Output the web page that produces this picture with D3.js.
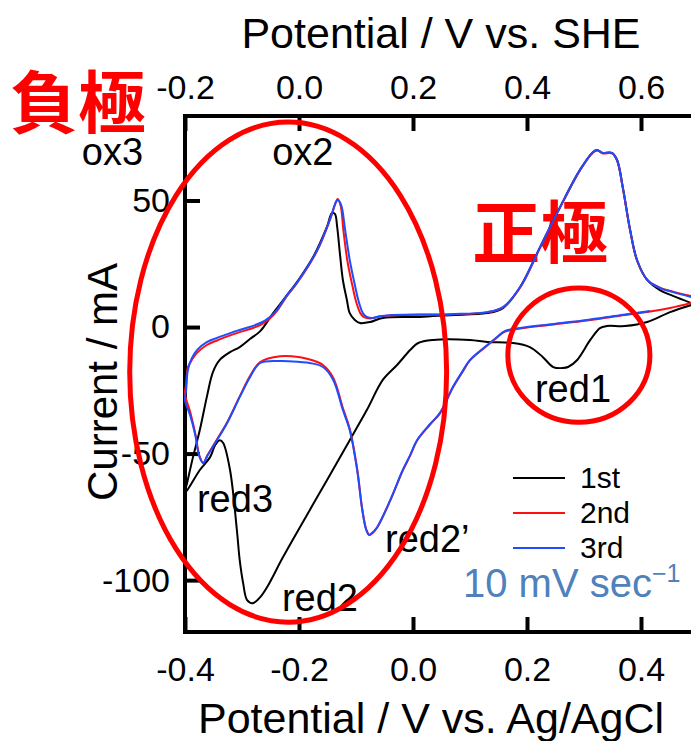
<!DOCTYPE html>
<html>
<head>
<meta charset="utf-8">
<script src="https://cdn.jsdelivr.net/npm/d3@7"></script>
<style>
  body { margin: 0; background: #fff; }
  svg { display: block; font-family: Arial, "Liberation Sans", sans-serif; }
</style>
</head>
<body>
<div id="chart"></div>
<script>
// potential (V vs. Ag/AgCl) and current (mA) for each cycle
const volt1st = [0.488,0.451,0.411,0.372,0.340,0.328,0.311,0.288,0.272,0.263,0.246,0.228,0.205,0.175,0.130,0.100,0.035,0.009,-0.005,-0.028,-0.053,-0.081,-0.111,-0.168,-0.228,-0.254,-0.268,-0.281,-0.291,-0.298,-0.304,-0.309,-0.321,-0.333,-0.339,-0.347,-0.356,-0.374,-0.396,-0.400,
  -0.396,-0.386,-0.374,-0.361,-0.351,-0.339,-0.321,-0.304,-0.286,-0.268,-0.246,-0.221,-0.198,-0.174,-0.151,-0.142,-0.137,-0.133,-0.128,-0.123,-0.116,-0.111,-0.102,-0.093,-0.075,-0.053,0.012,0.065,0.130,0.158,0.188,0.223,0.258,0.293,0.316,0.323,0.332,0.349,0.358,0.368,0.381,0.393,0.411,0.433,0.456,0.488];
const curr1st = [8.7,5.9,2.0,0.4,0.4,-0.4,-5.1,-13.0,-15.8,-16.2,-15.8,-11.9,-7.9,-6.3,-5.9,-5.1,-5.1,-6.3,-9.1,-15.0,-20.9,-32.8,-44.7,-67.2,-90.9,-102.0,-106.7,-109.1,-107.9,-101.2,-92.1,-80.2,-56.5,-45.8,-44.7,-46.6,-51.4,-56.5,-64.4,-65.2,
  -61.3,-51.4,-40.7,-26.9,-17.8,-13.0,-9.9,-7.9,-4.7,-1.6,5.3,12.6,19.6,28.2,39.6,45.1,44.7,39.5,28.5,18.6,10.7,5.5,2.8,1.6,2.0,3.6,4.0,4.7,5.5,7.5,15.8,31.6,47.4,62.1,69.2,70.0,68.8,68.8,66.0,55.3,38.3,26.5,18.6,14.6,12.3,9.5];

const volt2nd = [0.488,0.451,0.416,0.363,0.305,0.246,0.188,0.161,0.147,0.126,0.100,0.086,0.070,0.047,0.030,0.007,-0.005,-0.018,-0.040,-0.063,-0.072,-0.077,-0.082,-0.089,-0.098,-0.111,-0.123,-0.140,-0.158,-0.181,-0.198,-0.233,-0.268,-0.286,-0.304,-0.326,-0.344,-0.360,-0.368,-0.375,-0.382,-0.391,-0.400,
  -0.398,-0.395,-0.388,-0.379,-0.361,-0.344,-0.316,-0.268,-0.251,-0.239,-0.221,-0.204,-0.168,-0.146,-0.135,-0.132,-0.127,-0.122,-0.115,-0.106,-0.100,-0.092,-0.085,-0.075,-0.058,-0.040,0.065,0.130,0.158,0.188,0.223,0.258,0.293,0.316,0.323,0.333,0.349,0.358,0.368,0.381,0.393,0.411,0.433,0.456,0.488];
const curr2nd = [9.5,7.5,6.1,4.5,2.6,1.0,-0.6,-1.8,-4.2,-8.1,-13.2,-18.0,-23.9,-34.2,-38.5,-44.9,-50.8,-56.7,-68.6,-79.3,-81.6,-82.0,-80.0,-72.0,-56.0,-40.2,-32.0,-20.0,-15.0,-12.8,-11.9,-11.5,-13.8,-19.4,-27.4,-37.6,-44.4,-50.4,-53.6,-50.6,-42.0,-33.5,-26.5,
  -22.5,-16.0,-13.0,-10.2,-7.0,-5.3,-2.9,0.8,3.4,6.3,12.3,17.2,30.2,42.2,49.6,50.6,48.0,38.0,26.0,16.0,10.2,5.3,3.8,3.4,4.2,4.6,5.0,5.8,7.8,15.6,31.4,47.2,62.0,69.0,69.8,68.6,68.6,65.8,55.0,38.0,26.3,18.6,15.6,14.0,12.2];

const volt3rd = [0.416,0.363,0.305,0.246,0.188,0.161,0.147,0.126,0.100,0.086,0.070,0.047,0.030,0.007,-0.005,-0.018,-0.040,-0.063,-0.072,-0.077,-0.082,-0.089,-0.098,-0.111,-0.123,-0.140,-0.158,-0.181,-0.198,-0.233,-0.268,-0.286,-0.304,-0.326,-0.344,-0.360,-0.368,-0.375,-0.382,-0.391,-0.400,
  -0.398,-0.395,-0.388,-0.379,-0.361,-0.344,-0.316,-0.268,-0.251,-0.239,-0.221,-0.204,-0.168,-0.146,-0.135,-0.132,-0.126,-0.119,-0.111,-0.102,-0.096,-0.088,-0.081,-0.070,-0.058,-0.040,0.065,0.130,0.158,0.188,0.223,0.258,0.293,0.316,0.323,0.333,0.349,0.358,0.368,0.381,0.393,0.411,0.433,0.456,0.488];
const curr3rd = [6.3,4.7,2.8,1.2,-0.4,-1.6,-4.0,-7.9,-13.0,-17.8,-23.7,-34.0,-38.3,-44.7,-50.6,-56.5,-68.4,-79.1,-81.4,-82.2,-80.2,-72.3,-56.5,-40.7,-32.8,-20.9,-15.8,-14.2,-13.8,-13.4,-14.2,-19.8,-27.7,-37.9,-44.7,-50.6,-53.8,-51.0,-42.7,-34.8,-28.9,
  -24.9,-17.0,-12.3,-9.1,-5.9,-4.3,-2.0,1.6,4.0,6.7,12.6,17.4,30.4,42.3,49.4,50.2,48.2,38.3,26.5,16.6,10.7,5.5,4.0,3.6,4.3,4.7,5.1,5.9,7.9,15.8,31.6,47.4,62.1,69.2,70.0,68.8,68.8,66.0,55.3,38.3,26.5,18.6,15.4,13.8,11.9];

const cycleNames = ["1st", "2nd", "3rd"];
const agclTicks = [-0.4, -0.2, 0.0, 0.2, 0.4];
const sheTicks = [-0.2, 0.0, 0.2, 0.4, 0.6];
const currentTicks = [-100, -50, 0, 50];

// peak labels, anchored at (potential, current)
const peakNames = ["ox3", "ox2", "red3", "red2", "red2\u2019", "red1"];
const peakVolt = [-0.581, -0.247, -0.379, -0.230, -0.049, 0.214];
const peakCurr = [64.0, 64.0, -73.1, -112.3, -88.9, -29.6];

const width = 691;
const height = 741;
const plotLeft = 185;
const plotTop = 116;
const plotBottom = 632;

const x = d3.scaleLinear().domain([-0.4, 0.4]).range([185, 641]);
const xShe = d3.scaleLinear().domain([-0.2, 0.6]).range([185, 641]);
const y = d3.scaleLinear().domain([-120.5, 83]).range([632, 117]);

const colors = ["#000000", "#ff1010", "#1f4cff"];
const series = [[volt1st, curr1st], [volt2nd, curr2nd], [volt3rd, curr3rd]]
  .map(([v, c]) => v.map((d, i) => ({ v: d, i: c[i] })));

const svg = d3.select("#chart").append("svg")
  .attr("width", width)
  .attr("height", height)
  .attr("viewBox", [0, 0, width, height]);

// 正極 sits under the curves
svg.append("text")
  .attr("x", x(0.104)).attr("y", y(27.3))
  .attr("font-family", "'Noto Sans CJK JP', sans-serif")
  .attr("font-weight", 700)
  .attr("font-size", 68)
  .attr("fill", "#ff0000")
  .text("正極");

svg.append("text")
  .attr("x", x(-0.707)).attr("y", y(78.5))
  .attr("font-family", "'Noto Sans CJK JP', sans-serif")
  .attr("font-weight", 700)
  .attr("font-size", 68)
  .attr("fill", "#ff0000")
  .text("負極");

// axes
const tickFmt = d => d.toFixed(1);

svg.append("g")
  .attr("transform", `translate(0,${plotBottom})`)
  .call(d3.axisBottom(x).tickValues(agclTicks).tickFormat(tickFmt)
    .tickSizeInner(-15).tickSizeOuter(0).tickPadding(25))
  .call(g => g.select(".domain").remove());

svg.append("g")
  .attr("transform", `translate(0,${plotTop})`)
  .call(d3.axisTop(xShe).tickValues(sheTicks).tickFormat(tickFmt)
    .tickSizeInner(-15).tickSizeOuter(0).tickPadding(17))
  .call(g => g.select(".domain").remove());

svg.append("g")
  .attr("transform", `translate(${plotLeft},0)`)
  .call(d3.axisLeft(y).tickValues(currentTicks).tickFormat(d => String(d))
    .tickSizeInner(-15).tickSizeOuter(0).tickPadding(15))
  .call(g => g.select(".domain").remove());

svg.selectAll(".tick line").attr("stroke", "#000").attr("stroke-width", 4);
svg.selectAll(".tick text")
  .attr("font-family", "Arial, 'Liberation Sans', sans-serif")
  .attr("font-size", 34)
  .attr("fill", "#000");

svg.append("path")
  .attr("d", `M${width + 10},${plotTop}H${plotLeft}V${plotBottom}H${width + 10}`)
  .attr("fill", "none")
  .attr("stroke", "#000")
  .attr("stroke-width", 4);

// axis titles
svg.append("text")
  .attr("x", 441).attr("y", 48)
  .attr("text-anchor", "middle")
  .attr("font-size", 43)
  .text("Potential / V vs. SHE");

svg.append("text")
  .attr("x", 431).attr("y", 733)
  .attr("text-anchor", "middle")
  .attr("font-size", 43)
  .text("Potential / V vs. Ag/AgCl");

svg.append("text")
  .attr("transform", "translate(117,382) rotate(-90)")
  .attr("text-anchor", "middle")
  .attr("font-size", 42)
  .text("Current / mA");

// curves
const line = d3.line()
  .curve(d3.curveCatmullRom.alpha(0.5))
  .x(d => x(d.v))
  .y(d => y(d.i));

svg.append("g")
  .selectAll("path")
  .data(series)
  .join("path")
  .attr("fill", "none")
  .attr("stroke", (d, i) => colors[i])
  .attr("stroke-width", 2)
  .attr("stroke-linejoin", "round")
  .attr("d", line);

// peak labels
svg.append("g")
  .selectAll("text")
  .data(peakNames)
  .join("text")
  .attr("x", (d, i) => x(peakVolt[i]))
  .attr("y", (d, i) => y(peakCurr[i]))
  .attr("font-size", 38)
  .text(d => d);

// legend
const legend = svg.append("g");
cycleNames.forEach((name, i) => {
  const ly = 478 + i * 35;
  legend.append("line")
    .attr("x1", 513).attr("x2", 565)
    .attr("y1", ly).attr("y2", ly)
    .attr("stroke", colors[i])
    .attr("stroke-width", 2);
  legend.append("text")
    .attr("x", 580).attr("y", ly + 10)
    .attr("font-size", 30)
    .text(name);
});

const rate = svg.append("text")
  .attr("x", 463).attr("y", 597)
  .attr("font-size", 40)
  .attr("fill", "#4f81bd");
rate.append("tspan").text("10 mV sec");
rate.append("tspan").attr("font-size", 25).attr("dy", -15).text("\u22121");

// highlight rings
svg.append("ellipse")
  .attr("cx", x(-0.219)).attr("cy", y(-17.8))
  .attr("rx", x(-0.219 + 0.278) - x(-0.219))
  .attr("ry", y(-17.8 - 98.8) - y(-17.8))
  .attr("fill", "none")
  .attr("stroke", "#ff0000")
  .attr("stroke-width", 5);

svg.append("ellipse")
  .attr("cx", x(0.291)).attr("cy", y(-11.1))
  .attr("rx", x(0.291 + 0.1246) - x(0.291))
  .attr("ry", y(-11.1 - 26.5) - y(-11.1))
  .attr("fill", "none")
  .attr("stroke", "#ff0000")
  .attr("stroke-width", 5);
</script>
</body>
</html>
